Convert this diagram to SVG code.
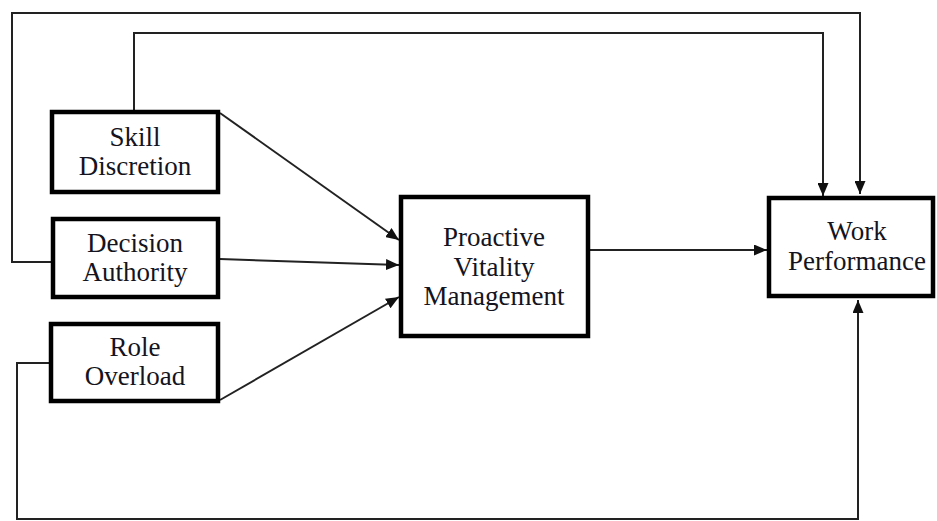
<svg xmlns="http://www.w3.org/2000/svg" width="937" height="521" viewBox="0 0 937 521">
<defs>
<marker id="arr" viewBox="0 0 13 11" refX="13" refY="5.5" markerWidth="13" markerHeight="11" markerUnits="userSpaceOnUse" orient="auto">
<path d="M0,0 L13,5.5 L0,11 Z" fill="#111"/>
</marker>
</defs>
<style>
.box{fill:#fff;stroke:#000;stroke-width:4.5}
.lbl{font-family:"Liberation Serif","Times New Roman",serif;font-size:27px;fill:#141420;text-anchor:middle}
.c{fill:none;stroke:#222;stroke-width:2}
</style>
<rect width="937" height="521" fill="#fff"/>
<g id="connectors">
<polyline class="c" points="53,262 12,262 12,13 860,13 860,194" marker-end="url(#arr)"/>
<polyline class="c" points="134,111 134,33 823,33 823,196" marker-end="url(#arr)"/>
<polyline class="c" points="51,363 17,363 17,519 858,519 858,300" marker-end="url(#arr)"/>
<line class="c" x1="220" y1="113" x2="399" y2="240" marker-end="url(#arr)"/>
<line class="c" x1="220" y1="259" x2="399" y2="265" marker-end="url(#arr)"/>
<line class="c" x1="220" y1="400" x2="399" y2="297" marker-end="url(#arr)"/>
<line class="c" x1="588" y1="250" x2="767" y2="250" marker-end="url(#arr)"/>
</g>
<g id="skill">
<rect class="box" x="52" y="112" width="166" height="80"/>
<text class="lbl" x="135" y="146">Skill</text>
<text class="lbl" x="135" y="175">Discretion</text>
</g>
<g id="decision">
<rect class="box" x="53" y="219" width="165" height="78"/>
<text class="lbl" x="135" y="252">Decision</text>
<text class="lbl" x="135" y="281">Authority</text>
</g>
<g id="role">
<rect class="box" x="51" y="324" width="167" height="77"/>
<text class="lbl" x="135" y="356">Role</text>
<text class="lbl" x="135" y="385">Overload</text>
</g>
<g id="pvm">
<rect class="box" x="401" y="197" width="187" height="139"/>
<text class="lbl" x="494" y="246">Proactive</text>
<text class="lbl" x="494" y="276">Vitality</text>
<text class="lbl" x="494" y="305">Management</text>
</g>
<g id="wp">
<rect class="box" x="769" y="198" width="164" height="98"/>
<text class="lbl" x="857" y="240">Work</text>
<text class="lbl" x="857" y="270">Performance</text>
</g>
</svg>
